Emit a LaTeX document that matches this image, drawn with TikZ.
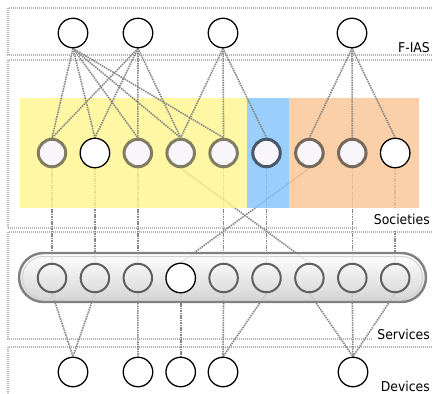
\documentclass[tikz,border=0pt]{standalone}
\usepackage{fontspec}
\newfontfamily\labelfont[FakeStretch=0.92]{DejaVu Sans}
\pgfdeclarelayer{boxlayer}
\pgfdeclarelayer{lowlines}
\pgfdeclarelayer{tint}
\pgfdeclarelayer{toplines}
\pgfsetlayers{boxlayer,lowlines,tint,toplines,main}
\definecolor{boxgray}{RGB}{180,180,180}
\definecolor{conngray}{RGB}{135,135,135}
\definecolor{socfill}{RGB}{248,246,250}
\definecolor{yolive}{RGB}{128,125,98}
\definecolor{bslate}{RGB}{72,88,108}
\definecolor{obrown}{RGB}{118,104,90}
\definecolor{svcline}{RGB}{95,95,95}
\definecolor{pillline}{RGB}{128,128,128}
\definecolor{yellowT}{RGB}{255,245,140}
\definecolor{blueT}{RGB}{130,195,250}
\definecolor{orangeT}{RGB}{250,195,145}
\begin{document}
\begin{tikzpicture}[x=1pt,y=-1pt,
  layerbox/.style={draw=boxgray,line width=1.8pt,dash pattern=on 1pt off 1pt},
  conn/.style={draw=conngray,line width=1.6pt,dash pattern=on 1.5pt off 0.9pt},
  blank/.style={circle,draw=black,line width=1.3pt,fill=white,minimum size=29.5pt,inner sep=0pt},
  soc/.style={circle,draw=#1,line width=3pt,fill=socfill,minimum size=27.5pt,inner sep=0pt},
  svc/.style={circle,draw=svcline,line width=2pt,minimum size=28.5pt,inner sep=0pt},
  layerlabel/.style={font=\labelfont\fontsize{13.5pt}{15pt}\selectfont,anchor=base east,inner sep=0pt}
]
\useasboundingbox (0,0) rectangle (432,394);

% F-IAS nodes
\node[blank] (f1) at (73,33) {};
\node[blank] (f2) at (138,33) {};
\node[blank] (f3) at (223,33) {};
\node[blank] (f4) at (352,33) {};

% Societies
\node[soc=yolive] (s1) at (52,153) {};
\node[blank]      (s2) at (94.9,153) {};
\node[soc=yolive] (s3) at (137.8,153) {};
\node[soc=yolive] (s4) at (180.7,153) {};
\node[soc=yolive] (s5) at (223.6,153) {};
\node[soc=bslate] (s6) at (266.5,153) {};
\node[soc=obrown] (s7) at (309.4,153) {};
\node[soc=obrown] (s8) at (352.3,153) {};
\node[blank]      (s9) at (395.2,153) {};

% Services
\node[svc]   (v1) at (52,278) {};
\node[svc]   (v2) at (94.9,278) {};
\node[svc]   (v3) at (137.8,278) {};
\node[blank] (v4) at (180.7,278) {};
\node[svc]   (v5) at (223.6,278) {};
\node[svc]   (v6) at (266.5,278) {};
\node[svc]   (v7) at (309.4,278) {};
\node[svc]   (v8) at (352.3,278) {};
\node[svc]   (v9) at (395.2,278) {};

% Devices
\node[blank] (d1) at (73,372) {};
\node[blank] (d2) at (138,372) {};
\node[blank] (d3) at (180.7,372) {};
\node[blank] (d4) at (223,372) {};
\node[blank] (d5) at (353,372) {};

% labels
\node[layerlabel] (lf) at (430,52) {F-IAS};
\node[layerlabel] (lso) at (430,224.5) {Societies};
\node[layerlabel] (lse) at (430,339.5) {Services};
\node[layerlabel] (lde) at (430,391.5) {Devices};

\begin{pgfonlayer}{boxlayer}
\draw[layerbox] (8,8) rectangle (445,55);
\draw[layerbox] (8,60) rectangle (445,228);
\draw[layerbox] (8,232) rectangle (445,339);
\draw[layerbox] (8,347) rectangle (445,405);
\end{pgfonlayer}

\begin{pgfonlayer}{lowlines}
\foreach \a/\b in {s1/v1,s2/v2,s3/v3,s5/v5,s6/v6,s8/v8,s9/v9,s4/v7,s7/v4}
  \draw[conn] (\a.south) -- (\b.north);
\foreach \a/\b in {v1/d1,v2/d1,v3/d2,v4/d3,v5/d4,v6/d4,v7/d5,v8/d5,v9/d5}
  \draw[conn] (\a.south) -- (\b.north);
\end{pgfonlayer}

\begin{pgfonlayer}{tint}
\fill[yellowT,fill opacity=0.8] (20,98) rectangle (247,208);
\fill[blueT,fill opacity=0.8] (247,98) rectangle (289,208);
\fill[orangeT,fill opacity=0.8] (289,98) rectangle (419,208);
\node[draw=pillline,line width=2.4pt,rounded corners=24.5pt,minimum width=407pt,minimum height=49pt,
      top color=white,middle color=white!96!gray,bottom color=gray!40,fill opacity=0.85] (bar) at (222.5,277.5) {};
\node[draw=gray!35,line width=1pt,rounded corners=21pt,minimum width=400pt,minimum height=42pt] (barin) at (222.5,277.5) {};
\end{pgfonlayer}

\begin{pgfonlayer}{toplines}
\fill[white] (358,209) rectangle (436,231);
\fill[white] (373,326) rectangle (436,342);
\foreach \b in {s1,s2,s3,s4,s5} \draw[conn] (f1.south) -- (\b.north);
\foreach \b in {s1,s2,s3,s4} \draw[conn] (f2.south) -- (\b.north);
\foreach \b in {s4,s5,s6} \draw[conn] (f3.south) -- (\b.north);
\foreach \b in {s7,s8,s9} \draw[conn] (f4.south) -- (\b.north);
\end{pgfonlayer}
\end{tikzpicture}
\end{document}
